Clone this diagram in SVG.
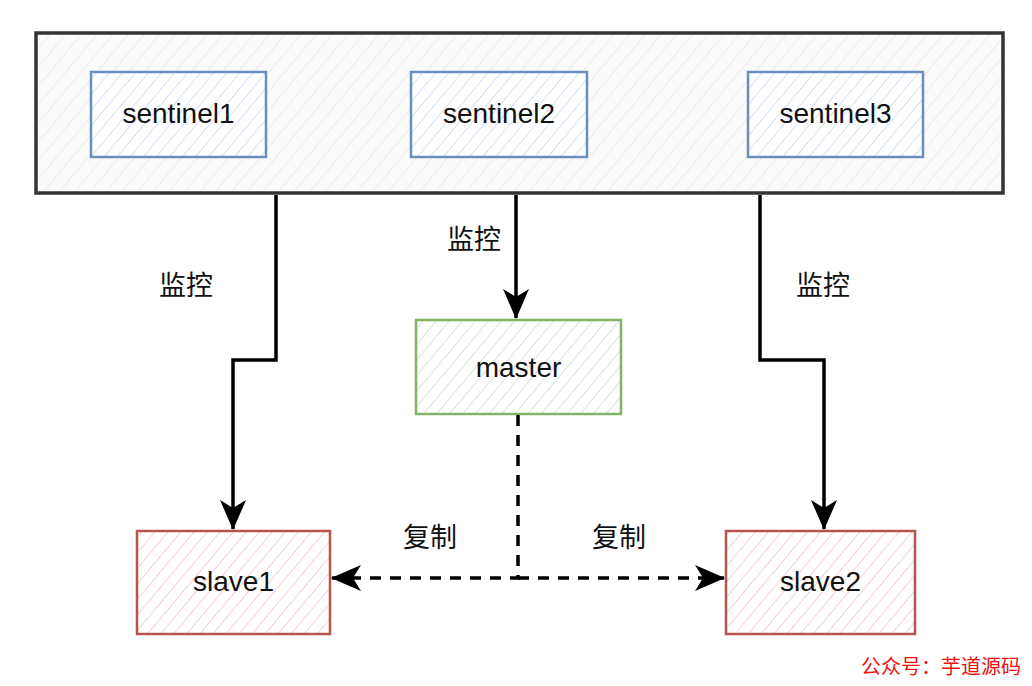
<svg xmlns="http://www.w3.org/2000/svg" width="1032" height="686" viewBox="0 0 1032 686">
<style>
.lbl{font-family:"Liberation Sans",Arial,sans-serif;font-size:28px;fill:#111;text-anchor:middle;dominant-baseline:central}
.cn{font-family:"Noto Sans CJK SC",sans-serif;font-size:27px;fill:#111;text-anchor:middle;dominant-baseline:central}
.wm{font-family:"Noto Sans CJK SC",sans-serif;font-size:20px;fill:#f01010;dominant-baseline:central}
.edge{fill:none;stroke:#000;stroke-width:3.5}
.dash{stroke-dasharray:11 9}
</style>
<defs>
<pattern id="hg" width="12" height="12" patternUnits="userSpaceOnUse" patternTransform="rotate(40)">
<rect width="12" height="12" fill="#fbfbfb"/><line x1="0" y1="0" x2="0" y2="12" stroke="#e4e4e4" stroke-width="1.2"/></pattern>
<pattern id="hb" width="10" height="10" patternUnits="userSpaceOnUse" patternTransform="rotate(40)">
<rect width="10" height="10" fill="#fff"/><line x1="0" y1="0" x2="0" y2="10" stroke="#c6d8f2" stroke-width="1.5"/></pattern>
<pattern id="hgr" width="10" height="10" patternUnits="userSpaceOnUse" patternTransform="rotate(40)">
<rect width="10" height="10" fill="#fff"/><line x1="0" y1="0" x2="0" y2="10" stroke="#c7dfc4" stroke-width="1.5"/></pattern>
<pattern id="hr" width="10" height="10" patternUnits="userSpaceOnUse" patternTransform="rotate(40)">
<rect width="10" height="10" fill="#fff"/><line x1="0" y1="0" x2="0" y2="10" stroke="#f3c2c0" stroke-width="1.5"/></pattern>
<marker id="arr" viewBox="0 0 30 26" refX="29" refY="13" markerWidth="30" markerHeight="26" markerUnits="userSpaceOnUse" orient="auto" overflow="visible">
<path d="M0,0 L30,13 L0,26 L8,13 Z" fill="#000"/></marker>
</defs>
<g id="container"><rect x="36" y="33" width="967" height="160" fill="url(#hg)" stroke="#333" stroke-width="3.5"/></g>
<g id="sentinel1"><rect x="91" y="72" width="175" height="85" fill="url(#hb)" stroke="#6c8ebf" stroke-width="2.5"/><text class="lbl" x="178.5" y="113">sentinel1</text></g>
<g id="sentinel2"><rect x="411" y="72" width="176" height="85" fill="url(#hb)" stroke="#6c8ebf" stroke-width="2.5"/><text class="lbl" x="499" y="113">sentinel2</text></g>
<g id="sentinel3"><rect x="748" y="72" width="175" height="85" fill="url(#hb)" stroke="#6c8ebf" stroke-width="2.5"/><text class="lbl" x="835.5" y="113">sentinel3</text></g>
<g id="master"><rect x="416" y="320" width="205" height="94" fill="url(#hgr)" stroke="#82b366" stroke-width="2.5"/><text class="lbl" x="518.5" y="367">master</text></g>
<g id="slave1"><rect x="137" y="531" width="193" height="103" fill="url(#hr)" stroke="#b85450" stroke-width="2.5"/><text class="lbl" x="233.5" y="581">slave1</text></g>
<g id="slave2"><rect x="726" y="531" width="189" height="103" fill="url(#hr)" stroke="#b85450" stroke-width="2.5"/><text class="lbl" x="820.5" y="581">slave2</text></g>
<g id="connectors">
<path class="edge" d="M276,195 V360 H233 V529" marker-end="url(#arr)"/>
<path class="edge" d="M516,195 V318" marker-end="url(#arr)"/>
<path class="edge" d="M760,195 V360 H824 V529" marker-end="url(#arr)"/>
<path class="edge dash" d="M518,415 V578 H332" marker-end="url(#arr)"/>
<path class="edge dash" d="M518,578 H724" marker-end="url(#arr)"/>
</g>
<g id="labels">
<text class="cn" x="186" y="283">监控</text>
<text class="cn" x="474" y="237">监控</text>
<text class="cn" x="823" y="283">监控</text>
<text class="cn" x="430" y="535">复制</text>
<text class="cn" x="619" y="535">复制</text>
<text class="wm" x="861" y="665">公众号：芋道源码</text>
</g>
</svg>
